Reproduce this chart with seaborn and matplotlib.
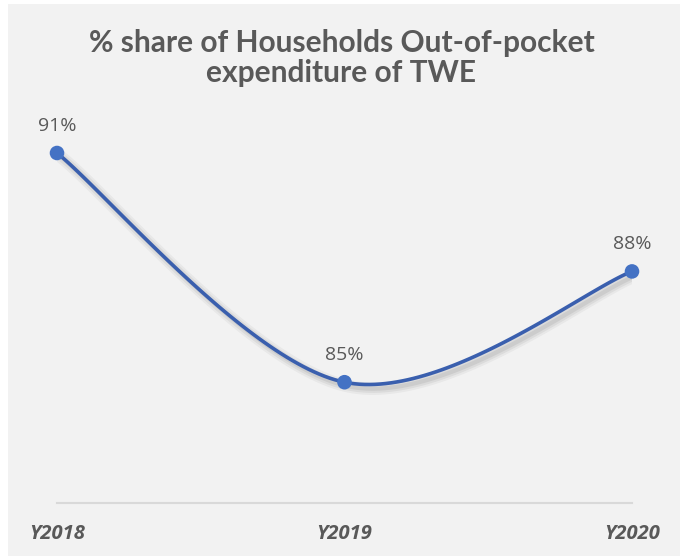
import numpy as np
import pandas as pd
import seaborn as sns
import matplotlib.pyplot as plt
import matplotlib.patheffects as pe
from matplotlib.patches import Rectangle

years = ["Y2018", "Y2019", "Y2020"]
share = [91.0, 85.0, 87.9]
labels = ["91%", "85%", "88%"]

title = "% share of Households Out-of-pocket\nexpenditure of TWE"

sns.set_theme(style="white")
plt.rcParams['font.family'] = ['Lato', 'DejaVu Sans']

W, H = 683, 559
fig = plt.figure(figsize=(W / 100, H / 100), dpi=100, facecolor="white")
fig.patches.append(Rectangle((8 / W, 3 / H), (W - 11) / W, (H - 7) / H,
                             transform=fig.transFigure, facecolor="#f2f2f2",
                             edgecolor="none", zorder=-5))

# axes: x from 57 to 632 px, y from 503 (bottom) to 120 (top)
left, right, bottom, top = 57, 632, 503, 120
ax = fig.add_axes([left / W, 1 - bottom / H, (right - left) / W, (bottom - top) / H])
ax.set_facecolor("none")
ax.set_zorder(2)

df = pd.DataFrame({"year": years, "share": share})
xi = np.arange(len(years), dtype=float)
yi = np.array(share)

# Excel-style smoothing (Bezier through points)
P = np.column_stack([xi, yi])
curve = []
n = len(P)
for i in range(n - 1):
    p0 = P[i - 1] if i > 0 else P[i]
    p1 = P[i]
    p2 = P[i + 1]
    p3 = P[i + 2] if i + 2 < n else P[i + 1]
    c1 = p1 + (p2 - p0) / 6
    c2 = p2 - (p3 - p1) / 6
    t = np.linspace(0, 1, 60)[:, None]
    seg = (1 - t) ** 3 * p1 + 3 * (1 - t) ** 2 * t * c1 + 3 * (1 - t) * t ** 2 * c2 + t ** 3 * p2
    curve.append(seg if i == 0 else seg[1:])
curve = np.vstack(curve)

shadow = [pe.SimpleLineShadow(offset=(3, -3), shadow_color="#a0a0a0", alpha=0.12, linewidth=9),
          pe.SimpleLineShadow(offset=(3, -3), shadow_color="#a0a0a0", alpha=0.18, linewidth=6),
          pe.SimpleLineShadow(offset=(3, -3), shadow_color="#a0a0a0", alpha=0.25, linewidth=3),
          pe.Normal()]
sns.lineplot(x=curve[:, 0], y=curve[:, 1], ax=ax, color="#3a5fae", linewidth=2.6,
             sort=False, path_effects=shadow, zorder=3)
sns.scatterplot(data=df, x=xi, y="share", ax=ax, color="#4472c4", s=110,
                edgecolor="none", zorder=4, clip_on=False)

for x, y, lab in zip(xi, yi, labels):
    ax.annotate(lab, (x, y), xytext=(0, 13), textcoords="offset points",
                ha="center", va="bottom", fontsize=14, color="#595959",
                family=["Open Sans", "DejaVu Sans"])

ylo = 91.0 - (bottom - 153) / 38.2
yhi = ylo + (bottom - top) / 38.2
ax.set_ylim(ylo, yhi)
ax.set_xlim(0, 2)
ax.set_yticks([])
ax.set_xticks(xi)
ax.set_xticklabels(years, fontsize=14.5, fontweight="bold", fontstyle="italic",
                   color="#595959", family=["Open Sans", "DejaVu Sans"])
ax.tick_params(axis="x", length=0, pad=15)
for s in ["top", "left", "right"]:
    ax.spines[s].set_visible(False)
ax.spines["bottom"].set_color("#d9d9d9")
ax.spines["bottom"].set_linewidth(1.5)
ax.set_xlabel("")
ax.set_ylabel("")

fig.text(0.5, 1 - 58 / H, title, ha="center", va="center", fontsize=21.5,
         fontweight="bold", color="#595959", linespacing=1.1)

fig.savefig("out.png", dpi=100, facecolor="white")
